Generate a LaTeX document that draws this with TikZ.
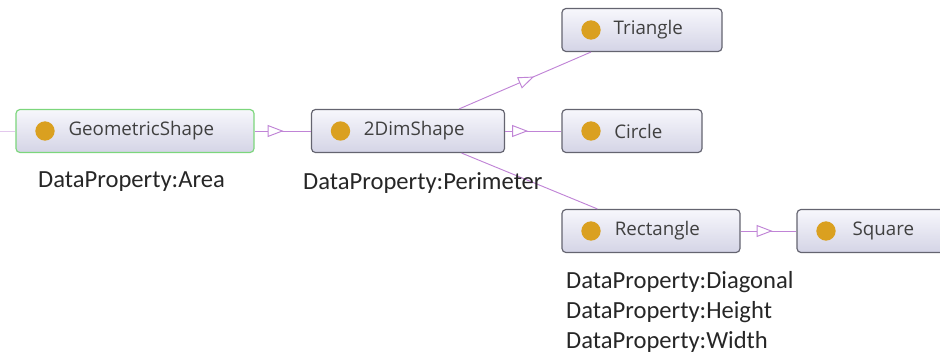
\documentclass[tikz,border=0pt]{standalone}
\usepackage{fontspec}
\setmainfont{Carlito}
\newfontfamily\clsfont{Open Sans}
\usetikzlibrary{positioning, arrows.meta, decorations.markings}

\definecolor{edgecol}{RGB}{192,132,214}
\definecolor{dotcol}{RGB}{218,160,32}
\definecolor{boxtop}{RGB}{247,247,252}
\definecolor{boxbot}{RGB}{212,212,230}
\definecolor{boxline}{RGB}{100,100,112}
\definecolor{selline}{RGB}{124,214,124}

\begin{document}
\begin{tikzpicture}[
      x=0.03cm, y=-0.03cm,
      cls/.style={draw=boxline, line width=1pt, rounded corners=0.12cm,
        top color=boxtop, bottom color=boxbot, minimum height=1.29cm,
        font=\clsfont\fontsize{16}{18}\selectfont, text=black!75,
        execute at begin node={\hspace*{0.38cm}},
        path picture={\fill[dotcol] ([xshift=0.87cm]path picture bounding box.west) circle (0.29cm);}},
      prop/.style={font=\fontsize{21}{25}\selectfont, text=black!85, inner sep=0pt, anchor=base west},
      edge/.style={draw=edgecol, line width=0.8pt},
      isa/.style={edge, postaction={decorate},
        decoration={markings, mark=at position #1 with {\arrow[edgecol]{Triangle[fill=white, length=0.48cm, width=0.36cm, line width=0.8pt]}}}}
  ]
  \useasboundingbox (0,0) rectangle (940,355);

  % Classes ------------------------------------------------
  \node[cls, draw=selline, minimum width=7.14cm] (geo) at (135,131) {GeometricShape};
  \node[cls, minimum width=5.79cm] (dim)  at (408,131) {2DimShape};
  \node[cls, minimum width=4.80cm] (tri)  at (642,30)  {Triangle};
  \node[cls, minimum width=4.20cm] (circ) at (632,131) {Circle};
  \node[cls, minimum width=5.34cm] (rect) at (651,231) {Rectangle};
  \node[cls, minimum width=4.80cm] (sq)   at (877,231) {Square};
  \coordinate (offleft) at (0,131);

  % Subclass edges ------------------------------------------------
  \draw[edge, draw=edgecol!45] (offleft) -- (geo);
  \draw[isa=0.87cm] (geo) -- (dim);
  \draw[isa=0.69cm] (dim) -- (circ);
  \draw[isa=2.45cm] (dim) -- (tri);
  \draw[edge] (dim) -- (rect);
  \draw[isa=0.96cm] (rect) -- (sq);

  % Data properties
  \node[prop] (geoprop)   at (38,187)  {DataProperty:Area};
  \node[prop] (dimprop)   at (303,189) {DataProperty:Perimeter};
  \node[prop] (rectdiag)  at (566,288) {DataProperty:Diagonal};
  \node[prop] (rectheight) at (566,318) {DataProperty:Height};
  \node[prop] (rectwidth) at (566,348) {DataProperty:Width};
\end{tikzpicture}
\end{document}
